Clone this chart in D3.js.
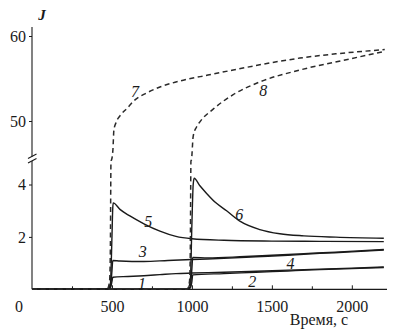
<!DOCTYPE html>
<html><head><meta charset="utf-8">
<script src="https://cdn.jsdelivr.net/npm/d3@7"></script>
<style>body{margin:0;background:#fff}svg{display:block}text{font-family:"Liberation Serif","Times New Roman",serif;fill:#1a1a1a}</style>
</head><body><svg id="c" width="394" height="331"></svg>
<script>
// ---- data ----
const xTicksMajor = [500, 1000, 1500, 2000];
const xTicksMinor = [250, 750, 1250, 1750];
const yTicksUpper = [50, 60];
const yTicksLower = [2, 4];
const c1t = [0,470,490,500,505,600,700,800,900,1000,1200,1400,1600,1800,2000,2200];
const c1v = [0,0,0.05,0.3,0.46,0.49,0.52,0.56,0.6,0.62,0.65,0.69,0.73,0.77,0.81,0.85];
const c2t = [0,970,990,1000,1005,1200,1400,1600,1800,2000,2200];
const c2v = [0,0,0.05,0.3,0.55,0.6,0.65,0.7,0.75,0.79,0.83];
const c3t = [0,470,490,500,505,550,700,850,1000,1200,1400,1600,1800,2000,2200];
const c3v = [0,0,0.1,0.7,1.1,1.08,1.06,1.1,1.14,1.18,1.24,1.3,1.37,1.43,1.5];
const c4t = [0,970,990,1000,1005,1100,1300,1500,1700,1900,2200];
const c4v = [0,0,0.1,0.8,1.22,1.2,1.24,1.3,1.36,1.42,1.52];
const c5t = [0,470,490,500,505,508,550,612,700,800,900,1000,1200,1500,1800,2200];
const c5v = [0,0,0.2,2,3.1,3.3,3.05,2.8,2.5,2.22,2.02,1.93,1.87,1.84,1.83,1.82];
const c6t = [0,970,990,1000,1008,1014,1050,1092,1150,1217,1300,1425,1550,1700,1900,2200];
const c6v = [0,0,0.3,2.5,4.0,4.24,3.95,3.66,3.3,3.0,2.6,2.28,2.12,2.04,1.99,1.95];
const c7t = [0,470,485,490,494,497,506,512,525,550,600,633,717,800,946,1100,1258,1450,1675,1900,2206];
const c7v = [0,0,0.3,1.5,4.9,45.4,46.6,48.9,49.8,50.6,51.6,52.3,53.3,54.0,54.8,55.4,56.0,56.7,57.4,57.9,58.4];
const c8t = [0,970,985,990,994,997,1008,1029,1050,1133,1258,1425,1675,1988,2206];
const c8v = [0,0,0.3,1.5,4.9,45.4,48.2,49.3,49.9,51.4,53.1,54.6,56.0,57.3,58.2];
const labels = [
  {t:"1", x:688, y:0.23}, {t:"2", x:1377, y:0.29}, {t:"3", x:692, y:1.43},
  {t:"4", x:1617, y:0.97}, {t:"5", x:727, y:2.58}, {t:"6", x:1296, y:2.84},
  {t:"7", x:644, y:53.45}, {t:"8", x:1446, y:53.56}
];

// ---- scales ----
const x = d3.scaleLinear().domain([0, 2220]).range([32, 387]);
const y = d3.scaleLinear().domain([0, 4.92, 45.4, 61]).range([289.3, 160.4, 160.1, 27.5]);
const yLow = d3.scaleLinear().domain([0, 4.92]).range([289.3, 160.4]);
const yUp = d3.scaleLinear().domain([45.4, 61]).range([160.1, 27.5]);

const svg = d3.select("#c");
const ink = "#1a1a1a";
const serif = "'Liberation Serif','Times New Roman',serif";

// axes lines
svg.append("line").attr("x1", x(0)).attr("x2", x(2220)).attr("y1", y(0)).attr("y2", y(0)).attr("stroke", ink).attr("stroke-width", 1.2);
svg.append("line").attr("x1", x(0)).attr("x2", x(0)).attr("y1", y(0)).attr("y2", 161).attr("stroke", ink).attr("stroke-width", 1.1);
svg.append("line").attr("x1", x(0)).attr("x2", x(0)).attr("y1", 156.5).attr("y2", 27).attr("stroke", ink).attr("stroke-width", 1.1);
[0, 4.5].forEach(d => svg.append("line").attr("x1", 28).attr("x2", 36.5).attr("y1", 163 - d).attr("y2", 158.5 - d).attr("stroke", ink).attr("stroke-width", 1.1));

const gx = svg.append("g").attr("transform", `translate(0,${y(0)})`)
  .call(d3.axisBottom(x).tickValues(xTicksMajor).tickSize(-4).tickPadding(11).tickFormat(d3.format("d")));
const gxm = svg.append("g").attr("transform", `translate(0,${y(0)})`)
  .call(d3.axisBottom(x).tickValues(xTicksMinor).tickSize(-3).tickFormat(""));
const gyu = svg.append("g").attr("transform", `translate(${x(0)},0)`)
  .call(d3.axisLeft(yUp).tickValues(yTicksUpper).tickSize(3).tickPadding(3).tickFormat(d3.format("d")));
const gyl = svg.append("g").attr("transform", `translate(${x(0)},0)`)
  .call(d3.axisLeft(yLow).tickValues(yTicksLower).tickSize(3).tickPadding(3).tickFormat(d3.format("d")));
[gx, gxm, gyu, gyl].forEach(g => {
  g.attr("font-family", serif).attr("font-size", 16);
  g.select(".domain").remove();
  g.selectAll("line").attr("stroke", ink).attr("stroke-width", 1);
  g.selectAll("text").attr("font-size", 16).attr("font-family", serif).attr("fill", ink);
});
svg.append("text").attr("x", 19).attr("y", 311.5).attr("text-anchor", "middle").attr("font-size", 16).text("0");
svg.append("text").attr("x", 42).attr("y", 20).attr("text-anchor", "middle").attr("font-size", 15)
  .attr("font-style", "italic").attr("font-weight", "bold").text("J");
svg.append("text").attr("x", 319).attr("y", 325).attr("text-anchor", "middle").attr("font-size", 16).text("Время, с");

// curves
const line = d3.line().x(d => x(d[0])).y(d => y(d[1])).curve(d3.curveMonotoneX);
const solid = [[c1t,c1v],[c2t,c2v],[c3t,c3v],[c4t,c4v],[c5t,c5v],[c6t,c6v]];
solid.forEach(([t, v]) => svg.append("path").datum(d3.zip(t, v)).attr("d", line)
  .attr("fill", "none").attr("stroke", ink).attr("stroke-width", 1.4));
[[c7t,c7v],[c8t,c8v]].forEach(([t, v]) => svg.append("path").datum(d3.zip(t, v)).attr("d", line)
  .attr("fill", "none").attr("stroke", "#2a2a2a").attr("stroke-width", 1.5).attr("stroke-dasharray", "5,3.5"));

labels.forEach(l => svg.append("text").attr("x", x(l.x)).attr("y", y(l.y) + 5.5)
  .attr("text-anchor", "middle").attr("font-size", 16).attr("font-style", "italic").text(l.t));
</script></body></html>
